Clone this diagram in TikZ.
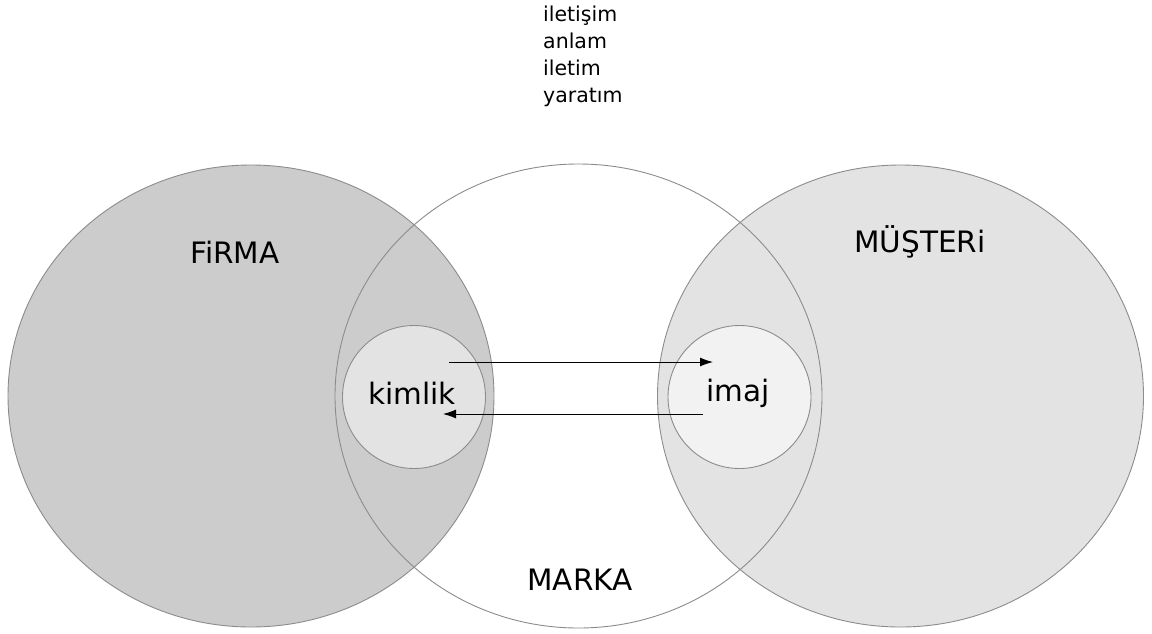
\documentclass[tikz,border=0pt]{standalone}
\usepackage{fontspec}
\setmainfont{DejaVu Sans}
\usetikzlibrary{arrows.meta}
\definecolor{firmagray}{HTML}{CCCCCC}
\definecolor{musterigray}{HTML}{E3E3E3}
\definecolor{kimlikgray}{HTML}{E3E3E3}
\definecolor{imajgray}{HTML}{F2F2F2}
\definecolor{edgegray}{HTML}{8C8C8C}
\begin{document}
\begin{tikzpicture}[x=1pt,y=-1pt,
  outline/.style={draw=edgegray,line width=0.9pt},
  label/.style={font=\fontsize{29.5}{34}\selectfont,inner sep=0pt},
  flow/.style={draw=black,line width=0.9pt,-{Latex[length=13pt,width=9pt]}}]
  \fill[white] (0,0) rectangle (1152,633);
  \useasboundingbox (0,0) rectangle (1152,633);
  % large sets: firm, brand, customer
  \fill[firmagray] (251,396) ellipse [x radius=243,y radius=231];
  \fill[musterigray] (900.5,396) ellipse [x radius=243,y radius=231];
  \draw[outline] (251,396) ellipse [x radius=243,y radius=231];
  \draw[outline] (578.5,396) ellipse [x radius=243.5,y radius=232];
  \draw[outline] (900.5,396) ellipse [x radius=243,y radius=231];
  % inner circles
  \node[circle,outline,fill=kimlikgray,minimum size=143pt,inner sep=0pt] (kimlik) at (414,397) {};
  \node[circle,outline,fill=imajgray,minimum size=143pt,inner sep=0pt] (imaj) at (739.5,397) {};
  \node[label] (kimliktxt) at (412,393) {kimlik};
  \node[label] (imajtxt) at (738,393) {imaj};
  % set labels
  \node[label] (firma) at (235,252) {FiRMA};
  \node[label] (musteri) at (920,242) {MÜŞTERi};
  \node[label] (marka) at (580,580) {MARKA};
  % exchange between identity and image
  \coordinate (k1) at (449,362);
  \coordinate (i1) at (713,362);
  \coordinate (i2) at (703,414);
  \coordinate (k2) at (443,414);
  \draw[flow] (k1) -- (i1);
  \draw[flow] (i2) -- (k2);
  % brand functions
  \node[font=\fontsize{20.5}{27}\selectfont,align=left,anchor=north west,inner sep=0pt] (funcs) at (543,6)
    {iletişim\\anlam\\iletim\\yaratım};
\end{tikzpicture}
\end{document}
